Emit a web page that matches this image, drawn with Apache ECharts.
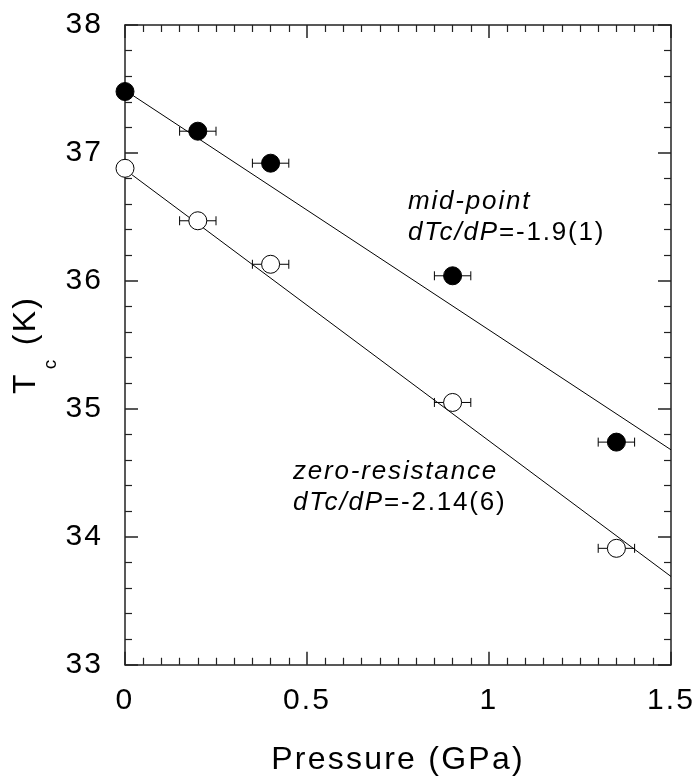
<!DOCTYPE html>
<html><head><meta charset="utf-8">
<script src="https://cdn.jsdelivr.net/npm/echarts@6/dist/echarts.min.js"></script>
<style>html,body{margin:0;padding:0;background:#fff}#c{width:700px;height:782px}</style>
</head><body><div id="c"></div>
<script>
// ---- data ----
const pressureMid  = [0, 0.2, 0.4, 0.9, 1.35];
const tcMid        = [37.48, 37.17, 36.92, 36.04, 34.74];
const pressureZero = [0, 0.2, 0.4, 0.9, 1.35];
const tcZero       = [36.88, 36.47, 36.13, 35.05, 33.91];
const pressureErr  = [0, 0.05, 0.05, 0.05, 0.05];
const fitMidP  = [0, 1.5];
const fitMidT  = [37.49, 34.68];
const fitZeroP = [0, 1.5];
const fitZeroT = [36.87, 33.69];
const xRange = [0, 1.5];
const yRange = [33, 38];

// slight letter spacing like the original typesetting
(function(){
  const P = CanvasRenderingContext2D.prototype;
  if (!('letterSpacing' in P)) return;
  function ls(ctx){
    const m = /(\d+(?:\.\d+)?)px/.exec(ctx.font);
    const s = m ? parseFloat(m[1]) : 12;
    ctx.letterSpacing = (s * 0.07).toFixed(2) + 'px';
  }
  const f = P.fillText;
  P.fillText = function(){ ls(this); return f.apply(this, arguments); };
  const mt = P.measureText;
  P.measureText = function(){ ls(this); return mt.apply(this, arguments); };
})();

const FONT = "'Liberation Sans', Arial, Helvetica, sans-serif";
const AX = '#222';

function zip(a, b, c){ return a.map((v, i) => c ? [v, b[i], c[i]] : [v, b[i]]); }

function errRender(params, api){
  const x = api.value(0), y = api.value(1), e = api.value(2);
  if (!e) return null;
  const p1 = api.coord([x - e, y]), p2 = api.coord([x + e, y]);
  const h = 4.5;
  const st = {stroke: '#000', lineWidth: 1};
  return {type: 'group', children: [
    {type: 'line', shape: {x1: p1[0], y1: p1[1], x2: p2[0], y2: p2[1]}, style: st},
    {type: 'line', shape: {x1: p1[0], y1: p1[1] - h, x2: p1[0], y2: p1[1] + h}, style: st},
    {type: 'line', shape: {x1: p2[0], y1: p2[1] - h, x2: p2[0], y2: p2[1] + h}, style: st}
  ]};
}

function mkX(pos, showLabel){
  return {
    type: 'value', position: pos, min: xRange[0], max: xRange[1], interval: 0.5,
    axisLine: {show: true, onZero: false, lineStyle: {color: AX, width: 1.5}},
    axisTick: {show: true, inside: true, length: 13, lineStyle: {color: AX, width: 1.5}},
    minorTick: {show: true, splitNumber: 10, length: 7, lineStyle: {color: AX, width: 1.2}},
    splitLine: {show: false}, minorSplitLine: {show: false},
    axisLabel: {show: showLabel, fontSize: 30, color: '#000', margin: 20, fontFamily: FONT},
    name: showLabel ? 'Pressure (GPa)' : '',
    nameLocation: 'middle', nameGap: 78, nameMoveOverlap: false,
    nameTextStyle: {fontSize: 32, color: '#000', fontFamily: FONT}
  };
}
function mkY(pos, showLabel){
  return {
    type: 'value', position: pos, min: yRange[0], max: yRange[1], interval: 1,
    axisLine: {show: true, onZero: false, lineStyle: {color: AX, width: 1.5}},
    axisTick: {show: true, inside: true, length: 13, lineStyle: {color: AX, width: 1.5}},
    minorTick: {show: true, splitNumber: 5, length: 7, lineStyle: {color: AX, width: 1.2}},
    splitLine: {show: false}, minorSplitLine: {show: false},
    axisLabel: {show: showLabel, fontSize: 30, color: '#000', margin: 22, fontFamily: FONT},
    name: showLabel ? '{t|T}{s|c}{t| (K)}' : '',
    nameLocation: 'middle', nameRotate: 90, nameGap: 64, nameMoveOverlap: false,
    nameTextStyle: {
      color: '#000', fontFamily: FONT,
      rich: {
        t: {fontSize: 32, lineHeight: 32, verticalAlign: 'top', color: '#000', fontFamily: FONT},
        s: {fontSize: 19, lineHeight: 52, verticalAlign: 'bottom', color: '#000', fontFamily: FONT, padding: [0, 2, 0, 3]}
      }
    }
  };
}

const chart = echarts.init(document.getElementById('c'), null, {renderer: 'canvas'});
chart.setOption({
  animation: false,
  backgroundColor: '#fff',
  grid: {left: 125, top: 25, right: 29, bottom: 116, containLabel: false},
  xAxis: [mkX('bottom', true), mkX('top', false)],
  yAxis: [mkY('left', true), mkY('right', false)],
  series: [
    {type: 'line', data: zip(fitMidP, fitMidT), symbol: 'none', lineStyle: {color: '#000', width: 1}, z: 1},
    {type: 'line', data: zip(fitZeroP, fitZeroT), symbol: 'none', lineStyle: {color: '#000', width: 1}, z: 1},
    {type: 'custom', renderItem: errRender, data: zip(pressureMid, tcMid, pressureErr), encode: {x: 0, y: 1}, z: 2},
    {type: 'custom', renderItem: errRender, data: zip(pressureZero, tcZero, pressureErr), encode: {x: 0, y: 1}, z: 2},
    {type: 'scatter', data: zip(pressureMid, tcMid), symbol: 'circle', symbolSize: 18,
     itemStyle: {color: '#000', borderColor: '#000', borderWidth: 1, opacity: 1}, z: 3, clip: false},
    {type: 'scatter', data: zip(pressureZero, tcZero), symbol: 'circle', symbolSize: 18,
     itemStyle: {color: '#fff', borderColor: '#000', borderWidth: 1, opacity: 1}, z: 3, clip: false}
  ],
  graphic: [
    {type: 'text', left: 408, top: 188, style: {text: 'mid-point', fontSize: 26, fontStyle: 'italic', fontFamily: FONT, fill: '#000'}},
    {type: 'text', left: 408, top: 219, style: {text: '{i|dTc/dP}{n|=-1.9(1)}', fill: '#000',
      rich: {i: {fontSize: 26, fontStyle: 'italic', fontFamily: FONT, fill: '#000'}, n: {fontSize: 26, fontFamily: FONT, fill: '#000'}}}},
    {type: 'text', left: 293, top: 458, style: {text: 'zero-resistance', fontSize: 26, fontStyle: 'italic', fontFamily: FONT, fill: '#000'}},
    {type: 'text', left: 293, top: 489, style: {text: '{i|dTc/dP}{n|=-2.14(6)}', fill: '#000',
      rich: {i: {fontSize: 26, fontStyle: 'italic', fontFamily: FONT, fill: '#000'}, n: {fontSize: 26, fontFamily: FONT, fill: '#000'}}}}
  ]
});
</script></body></html>
